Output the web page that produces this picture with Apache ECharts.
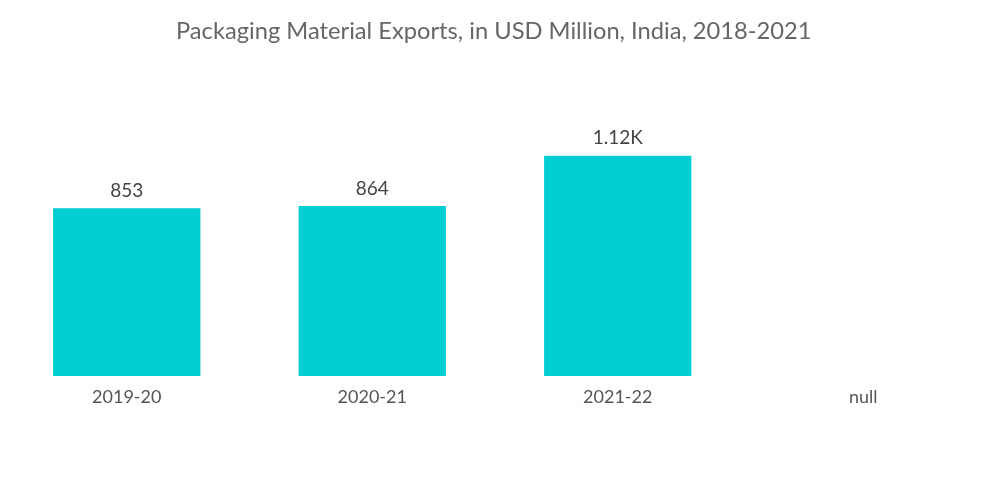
<!DOCTYPE html>
<html lang="en">
<head>
    <meta charset="UTF-8">
    <title>Packaging Material Exports</title>
    <script src="https://cdn.jsdelivr.net/npm/echarts@6/dist/echarts.min.js"></script>
    <style>
        html, body { margin: 0; padding: 0; background: #fff; }
    </style>
</head>
<body>
<div id="main" style="width: 1000px;height:504px;"></div>

<script type="text/javascript">
    // data
    var categories = ['2019-20', '2020-21', '2021-22', 'null'];
    var exportValues = [853, 864, 1120, null];
    var valueLabels = ['853', '864', '1.12K', ''];

    var myChart = echarts.init(document.getElementById('main'));

    var option = {
        title: {
            text: 'Packaging Material Exports, in USD Million, India, 2018-2021',
            left: 171,
            top: 14,
            textStyle: {
                color: '#666',
                fontSize: 23.7,
                fontWeight: 'normal',
                fontFamily: 'Lato'
            }
        },
        grid: {
            left: 4,
            right: 14,
            top: 140,
            bottom: 128
        },
        xAxis: {
            type: 'category',
            data: categories,
            axisLine: { show: false },
            axisTick: { show: false },
            axisLabel: {
                color: '#555',
                fontSize: 18,
                fontFamily: 'Lato',
                margin: 12
            }
        },
        yAxis: {
            type: 'value',
            min: 0,
            max: 1200,
            show: false,
            splitLine: { show: false }
        },
        series: [
            {
                type: 'bar',
                barWidth: '60%',
                data: exportValues,
                itemStyle: { color: '#00CED1' },
                label: {
                    show: true,
                    position: 'top',
                    distance: 8,
                    color: '#444',
                    fontSize: 19,
                    fontFamily: 'Lato',
                    formatter: function (p) {
                        return valueLabels[p.dataIndex];
                    }
                }
            }
        ]
    };

    myChart.setOption(option);
</script>
</body>
</html>
